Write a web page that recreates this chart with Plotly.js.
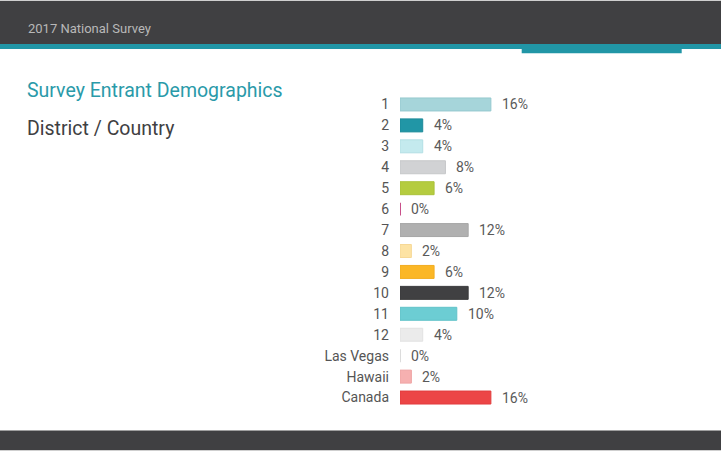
<!DOCTYPE html>
<html>
<head>
<meta charset="utf-8">
<script src="https://cdn.plot.ly/plotly-3.0.1.min.js"></script>
<style>
html,body{margin:0;padding:0;background:#fff;}
#chart{width:721px;height:451px;}
</style>
</head>
<body>
<div id="chart"></div>
<script>
// Data
const categories = ["1","2","3","4","5","6","7","8","9","10","11","12","Las Vegas","Hawaii","Canada"];
const values = [16, 4, 4, 8, 6, 0, 12, 2, 6, 12, 10, 4, 0, 2, 16];
const valueLabels = ["16%","4%","4%","8%","6%","0%","12%","2%","6%","12%","10%","4%","0%","2%","16%"];
const barColors = ["#a6d5da","#2196a6","#c4eaee","#d1d2d4","#b5cc3f","#c8508a","#b0b0b0","#fde3a4","#fbb726","#404042","#6ccdd3","#ebebeb","#e4e4e4","#f6b0b0","#ec4546"];
const lineColors = ["#95c9cf","#1d8a99","#b3dfe4","#c6c7c9","#aac23a","#c8508a","#a6a6a6","#f6d896","#f2ad20","#3a3a3c","#62c2c8","#e2e2e2","#dcdcdc","#eea4a4","#e23d3e"];
const headerText = "2017 National Survey";
const titleText = "Survey Entrant Demographics";
const subtitleText = "District / Country";

const FONT = "Roboto, 'DejaVu Sans', sans-serif";

// plot area geometry (pixels)
const W = 721, H = 451;
const mL = 400, mR = 21, mT = 93.5, mB = 42.5;
const pw = W - mL - mR, ph = H - mT - mB;
const px = x => (x - mL) / pw;          // page px -> paper x
const py = y => (H - mB - y) / ph;      // page px -> paper y

const trace = {
  type: "bar",
  orientation: "h",
  y: categories,
  x: values,
  marker: {
    color: barColors,
    line: { color: lineColors, width: values.map(v => (v === 0 ? 2 : 1)) }
  },
  hoverinfo: "none",
  cliponaxis: false
};

// value labels: y given as category index
const annotations = categories.map((c, i) => ({
  x: values[i], y: i, xref: "x", yref: "y",
  text: valueLabels[i], showarrow: false,
  xanchor: "left", yanchor: "middle", xshift: 9,
  font: { family: FONT, size: 14, color: "#5a5a5a" }
}));
annotations.push({
  x: px(25), y: py(128), xref: "paper", yref: "paper",
  text: subtitleText, showarrow: false, xanchor: "left", yanchor: "middle",
  font: { family: FONT, size: 19.5, color: "#404042" }
});
annotations.push({
  x: px(25), y: py(90), xref: "paper", yref: "paper",
  text: titleText, showarrow: false, xanchor: "left", yanchor: "middle",
  font: { family: FONT, size: 19.5, color: "#2a9aa9" }
});
annotations.push({
  x: px(26), y: py(28), xref: "paper", yref: "paper",
  text: headerText, showarrow: false, xanchor: "left", yanchor: "middle",
  font: { family: FONT, size: 13, color: "#b8b8b8" }
});

const shapes = [
  { type: "rect", xref: "paper", yref: "paper", x0: px(0), x1: px(W), y0: py(0), y1: py(43.3), fillcolor: "#404042", line: { width: 0 }, layer: "below" },
  { type: "rect", xref: "paper", yref: "paper", x0: px(0), x1: px(W), y0: py(43.3), y1: py(48.3), fillcolor: "#2196a6", line: { width: 0 }, layer: "below" },
  { type: "rect", xref: "paper", yref: "paper", x0: px(521.7), x1: px(681.7), y0: py(43.3), y1: py(52.7), fillcolor: "#2196a6", line: { width: 0 }, layer: "below" },
  { type: "rect", xref: "paper", yref: "paper", x0: px(0), x1: px(W), y0: py(430.5), y1: py(431.3), fillcolor: "#aaaaaa", line: { width: 0 }, layer: "below" },
  { type: "rect", xref: "paper", yref: "paper", x0: px(0), x1: px(W), y0: py(431.3), y1: py(H), fillcolor: "#404042", line: { width: 0 }, layer: "below" }
];

const layout = {
  width: W, height: H,
  margin: { l: mL, r: mR, t: mT, b: mB, pad: 0 },
  paper_bgcolor: "#ffffff",
  plot_bgcolor: "rgba(0,0,0,0)",
  showlegend: false,
  bargap: 0.38,
  xaxis: { range: [0, pw / 5.68], visible: false, fixedrange: true },
  yaxis: {
    autorange: "reversed", type: "category",
    showgrid: false, zeroline: false, showline: false,
    ticks: "", ticklabelstandoff: 10,
    tickfont: { family: FONT, size: 14, color: "#555555" },
    fixedrange: true
  },
  font: { family: FONT },
  shapes: shapes,
  annotations: annotations
};

Plotly.newPlot("chart", [trace], layout, { displayModeBar: false, staticPlot: true });
</script>
</body>
</html>
